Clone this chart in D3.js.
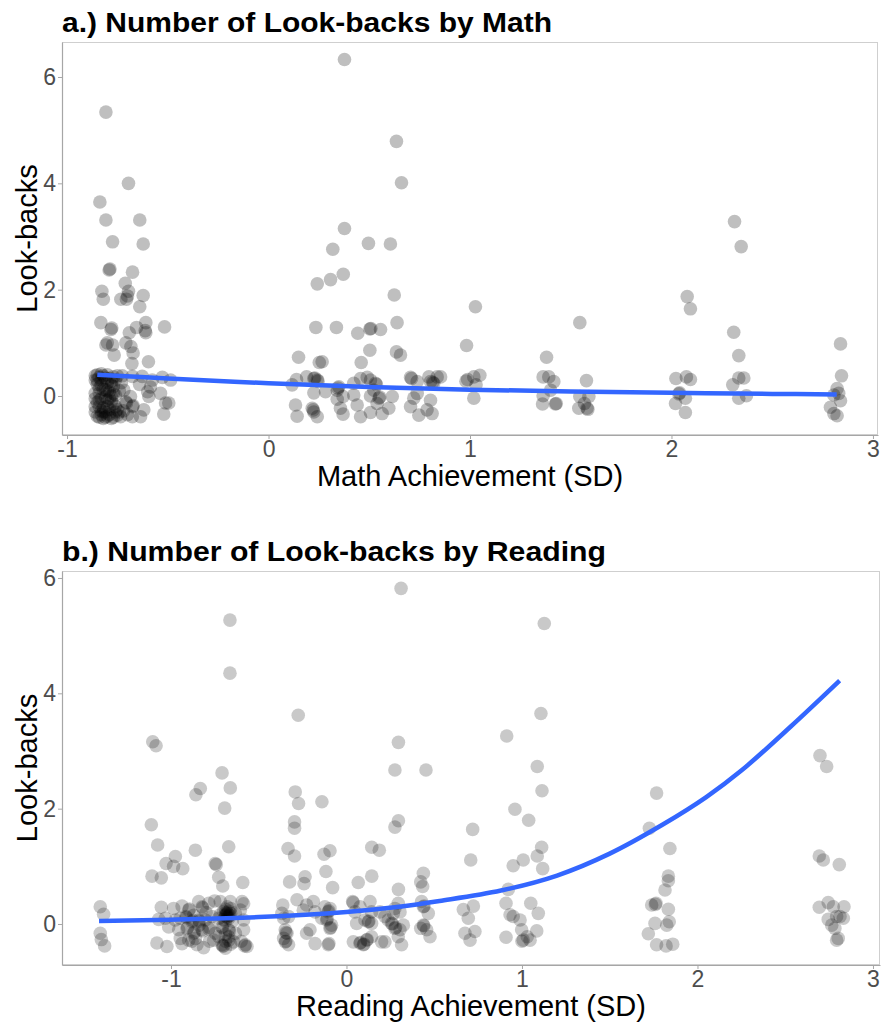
<!DOCTYPE html>
<html>
<head>
<meta charset="utf-8">
<script src="https://cdn.jsdelivr.net/npm/d3@7"></script>
<style>
  body { margin: 0; background: #fff; }
  text { font-family: "Liberation Sans", Arial, sans-serif; }
</style>
</head>
<body>
<script>
// ---- data ----
// [achievement (SD), look-backs (jittered)]
var mathPoints = [
  // left cluster, upper
  [-0.807,5.34],[-0.695,4.00],[-0.837,3.65],[-0.807,3.31],[-0.639,3.31],[-0.774,2.90],[-0.622,2.86],
  [-0.791,2.37],[-0.787,2.39],[-0.675,2.33],[-0.711,2.12],[-0.827,1.97],[-0.820,1.82],[-0.695,1.97],
  [-0.733,1.82],[-0.705,1.82],[-0.700,1.88],[-0.622,1.89],[-0.639,1.68],[-0.832,1.38],[-0.782,1.25],
  [-0.778,1.28],[-0.609,1.38],[-0.655,1.29],[-0.609,1.19],[-0.612,1.23],[-0.516,1.30],[-0.691,1.19],
  [-0.807,0.96],[-0.800,1.00],[-0.774,0.96],[-0.708,1.00],[-0.683,0.93],[-0.766,0.77],[-0.672,0.81],
  [-0.596,0.645],[-0.678,0.61],
  // left cluster, dense bottom
  [-0.86,0.38],[-0.85,0.22],[-0.86,0.05],[-0.85,-0.12],[-0.86,-0.30],[-0.84,-0.40],
  [-0.83,0.42],[-0.83,0.30],[-0.82,0.12],[-0.83,-0.05],[-0.82,-0.22],[-0.83,-0.35],
  [-0.80,0.40],[-0.80,0.25],[-0.79,0.08],[-0.80,-0.08],[-0.79,-0.25],[-0.80,-0.38],
  [-0.77,0.36],[-0.77,0.18],[-0.76,0.02],[-0.77,-0.15],[-0.76,-0.30],[-0.78,-0.42],
  [-0.81,0.34],[-0.78,0.28],[-0.84,0.15],[-0.81,-0.02],[-0.78,-0.10],[-0.84,-0.20],
  [-0.81,-0.30],[-0.78,0.00],[-0.82,-0.42],[-0.76,0.30],[-0.85,0.30],
  [-0.86,0.30],[-0.86,-0.20],[-0.85,0.40],[-0.85,-0.38],[-0.84,0.05],[-0.84,-0.08],[-0.83,0.20],
  [-0.82,0.38],[-0.82,-0.30],[-0.81,0.12],[-0.81,-0.40],[-0.80,0.10],[-0.80,-0.20],[-0.79,0.33],
  [-0.79,-0.35],[-0.78,0.20],[-0.77,-0.40],[-0.77,0.05],[-0.76,-0.20],[-0.75,0.38],[-0.75,-0.36],
  [-0.74,0.10],[-0.74,-0.30],[-0.73,0.25],[-0.72,-0.28],[-0.70,-0.35],[-0.84,0.35],[-0.83,-0.28],
  [-0.79,-0.05],[-0.86,-0.05],
  [-0.726,0.38],[-0.676,0.37],[-0.627,0.37],[-0.577,0.30],[-0.527,0.35],[-0.486,0.30],
  [-0.708,-0.11],[-0.705,-0.13],[-0.675,-0.20],[-0.672,-0.18],[-0.619,-0.26],[-0.594,-0.01],
  [-0.586,0.17],[-0.536,0.05],[-0.511,-0.13],[-0.495,-0.13],[-0.520,-0.34],[-0.635,-0.39],
  [-0.676,-0.39],[-0.734,-0.39],[-0.751,-0.26],[-0.64,0.22],[-0.60,0.08],[-0.718,0.11],[-0.685,-0.01],
  // middle cluster
  [0.377,6.33],[0.635,4.79],[0.660,4.01],[0.377,3.15],[0.319,2.76],[0.496,2.87],[0.605,2.86],
  [0.242,2.11],[0.308,2.19],[0.371,2.29],[0.624,1.90],[0.235,1.29],[0.337,1.29],[0.443,1.18],
  [0.503,1.26],[0.508,1.27],[0.556,1.25],[0.638,1.38],[0.149,0.73],[0.252,0.63],[0.266,0.645],
  [0.503,0.86],[0.460,0.63],[0.635,0.83],[0.655,0.77],
  [0.117,0.21],[0.139,0.31],[0.189,0.36],[0.225,0.33],[0.230,0.34],[0.242,0.30],[0.246,0.28],
  [0.349,0.175],[0.341,0.11],[0.345,0.15],[0.423,0.24],[0.457,0.33],[0.490,0.35],[0.506,0.30],
  [0.531,0.24],[0.535,0.22],[0.523,0.11],[0.705,0.35],[0.710,0.33],[0.738,0.27],[0.796,0.36],
  [0.837,0.36],[0.820,0.24],[0.815,0.26],[0.804,0.27],
  [0.225,0.06],[0.283,0.08],[0.341,-0.06],[0.370,-0.01],[0.423,0.02],[0.506,0.0],[0.548,-0.04],
  [0.552,-0.02],[0.614,-0.01],[0.721,-0.04],[0.804,-0.08],[0.738,0.05],
  [0.134,-0.17],[0.142,-0.38],[0.217,-0.23],[0.222,-0.26],[0.225,-0.30],[0.242,-0.39],[0.357,-0.23],
  [0.370,-0.34],[0.440,-0.17],[0.457,-0.39],[0.506,-0.31],[0.539,-0.14],[0.564,-0.33],[0.597,-0.23],
  [0.705,-0.20],[0.746,-0.36],[0.787,-0.26],[0.812,-0.33],
  // right clusters
  [0.854,0.36],[1.027,1.68],[0.983,0.95],[0.980,0.28],[0.988,0.31],[1.019,0.36],[1.049,0.39],
  [1.030,0.21],[1.019,-0.04],
  [1.380,0.73],[1.363,0.36],[1.391,0.36],[1.416,0.27],[1.400,0.11],[1.363,0.006],[1.360,-0.15],
  [1.424,-0.15],[1.428,-0.14],
  [1.545,1.38],[1.578,0.29],[1.545,-0.01],[1.590,-0.01],[1.540,-0.23],[1.581,-0.23],[1.585,-0.25],
  [1.568,-0.14],
  [2.078,1.87],[2.094,1.64],[2.022,0.33],[2.074,0.36],[2.094,0.31],[2.037,0.04],[2.040,0.06],
  [2.069,-0.04],[2.020,-0.14],[2.069,-0.31],
  [2.313,3.28],[2.346,2.81],[2.309,1.20],[2.334,0.76],[2.334,0.34],[2.359,0.34],[2.304,0.21],
  [2.334,-0.04],[2.372,0.006],
  [2.839,0.98],[2.844,0.38],[2.822,0.14],[2.830,0.05],[2.806,0.02],[2.839,-0.09],[2.789,-0.21],
  [2.806,-0.33],[2.822,-0.37]
];

var mathSmooth = [
  [-0.85,0.40],[-0.5,0.33],[0,0.24],[0.5,0.17],[1,0.12],[1.5,0.085],[2,0.06],[2.5,0.04],[2.82,0.03]
];

var readPoints = [
  // far left
  [-1.104,3.16],[-1.085,3.09],[-0.709,2.62],[-0.833,2.35],[-0.858,2.24],[-0.662,2.36],[-0.694,2.01],
  [-1.112,1.72],[-1.076,1.37],[-0.861,1.28],[-0.671,1.34],[-0.975,1.17],[-1.028,1.05],[-0.985,1.0],
  [-0.933,0.96],[-0.748,1.05],[-0.742,1.03],[-1.108,0.83],[-1.055,0.80],[-0.728,0.81],[-0.705,0.66],
  [-0.591,0.72],[-1.403,0.30],[-1.384,0.17],[-1.403,-0.16],[-1.397,-0.27],[-1.378,-0.38],
  [-1.080,-0.33],[-1.023,-0.39],[-0.664,5.27],[-0.664,4.35],
  // dense left cluster
  [-1.055,0.29],[-0.985,0.27],[-0.937,0.31],[-0.899,0.24],[-0.895,0.26],[-0.842,0.39],[-0.823,0.30],
  [-0.820,0.28],[-0.785,0.36],[-0.751,0.40],[-0.719,0.39],[-0.662,0.39],[-0.595,0.39],[-0.586,0.35],
  [-1.070,0.08],[-1.032,0.10],[-1.013,-0.05],[-0.975,0.07],[-0.947,0.10],[-0.915,0.13],[-0.912,0.11],
  [-0.880,0.04],[-0.876,0.06],[-0.842,0.07],[-0.838,0.05],[-0.804,0.07],[-0.766,0.13],[-0.728,0.10],
  [-0.690,0.19],[-0.685,0.17],[-0.680,0.20],[-0.671,0.13],[-0.667,0.15],[-0.633,0.19],[-0.605,0.24],
  [-0.586,0.07],
  [-0.956,-0.10],[-0.909,-0.08],[-0.905,-0.06],[-0.871,-0.16],[-0.866,-0.14],[-0.823,-0.10],
  [-0.818,-0.12],[-0.785,-0.08],[-0.780,-0.06],[-0.747,-0.16],[-0.709,-0.05],[-0.705,-0.07],
  [-0.671,-0.10],[-0.667,-0.12],[-0.633,-0.16],[-0.586,-0.10],
  [-0.947,-0.25],[-0.899,-0.28],[-0.852,-0.36],[-0.814,-0.41],[-0.757,-0.28],[-0.709,-0.36],
  [-0.705,-0.38],[-0.690,-0.42],[-0.643,-0.31],[-0.576,-0.36],[-0.567,-0.39],[-0.937,-0.34],
  [-0.861,-0.25],[-0.728,-0.22],[-0.671,-0.28],[-0.690,-0.30],
  [-0.70,0.22],[-0.69,0.26],[-0.68,0.12],[-0.67,0.22],[-0.66,0.18],[-0.70,0.08],[-0.68,0.30],
  [-0.65,0.05],[-0.72,0.16],[-0.69,-0.18],[-0.67,-0.22],[-0.70,-0.38],[-0.66,-0.35],[-0.87,0.15],
  [-0.84,-0.02],[-0.80,0.20],[-0.78,-0.30],[-0.88,-0.30],[-0.60,-0.30],[-0.58,-0.38],
  [-0.69,0.14],[-0.68,0.18],[-0.67,0.10],[-0.69,0.05],[-0.66,0.27],
  // -0.3 group
  [-0.275,3.62],[-0.292,2.29],[-0.273,2.09],[-0.296,1.77],[-0.296,1.66],[-0.333,1.31],[-0.296,1.18],
  [-0.324,0.73],[-0.282,0.42],[-0.363,0.33],[-0.368,0.185],[-0.358,0.10],[-0.330,0.127],
  [-0.349,-0.10],[-0.339,-0.16],[-0.345,-0.15],[-0.358,-0.25],[-0.349,-0.31],[-0.345,-0.30],
  [-0.330,-0.36],
  // middle
  [0.311,5.82],[1.127,5.21],[0.296,3.15],[0.276,2.67],[0.453,2.67],[0.913,3.26],[1.108,3.65],
  [1.087,2.73],[1.114,2.31],[0.960,1.99],[1.038,1.80],[-0.140,2.12],[0.296,1.79],[0.276,1.68],
  [0.719,1.64],[0.708,1.11],[0.144,1.33],[0.187,1.28],[-0.128,1.21],[-0.094,1.27],[-0.117,0.91],
  [-0.236,0.82],[-0.242,0.70],[-0.079,0.63],[0.067,0.72],[0.144,0.83],[0.438,0.88],[0.423,0.73],
  [0.434,0.65],[0.296,0.60],[0.950,1.01],[1.007,1.11],[1.087,1.18],[1.118,0.96],[1.112,1.33],
  [0.922,0.60],
  [-0.246,0.24],[-0.227,0.33],[-0.189,0.39],[-0.179,0.21],[-0.123,0.30],[-0.104,0.21],[-0.100,0.23],
  [-0.094,0.27],[-0.141,0.10],[-0.113,0.07],[-0.110,0.09],[-0.085,-0.02],[-0.094,-0.075],
  [-0.090,-0.06],[-0.208,-0.10],[-0.227,-0.16],[-0.179,-0.34],[-0.104,-0.36],[-0.100,-0.34],
  [0.035,0.39],[0.038,0.37],[0.048,0.21],[0.077,0.30],[0.134,0.39],[0.143,0.21],[0.105,0.07],
  [0.124,0.04],[0.128,0.05],[0.143,0.01],[0.058,0.01],[0.191,0.21],[0.219,0.13],[0.238,0.07],
  [0.267,0.185],[0.276,0.27],[0.295,0.36],[0.305,0.21],[0.257,0.01],[0.262,0.0],[0.276,-0.075],
  [0.280,-0.06],[0.324,-0.02],[0.305,-0.10],[0.039,-0.31],[0.077,-0.335],[0.080,-0.32],
  [0.096,-0.36],[0.100,-0.35],[0.115,-0.28],[0.118,-0.27],[0.143,-0.22],[0.200,-0.31],[0.219,-0.31],
  [0.314,-0.36],[0.295,-0.22],
  [0.428,0.39],[0.438,0.30],[0.442,0.31],[0.466,0.185],[0.423,-0.075],[0.457,-0.10],[0.476,-0.22],
  [0.438,-0.02],[0.441,-0.03],
  [0.666,0.25],[0.723,0.31],[0.694,0.10],[0.675,-0.16],[0.732,-0.13],[0.704,-0.28],
  [0.909,0.36],[0.932,0.16],[0.950,0.13],[0.989,0.07],[1.050,0.36],[1.093,0.185],[1.084,-0.12],
  [0.909,-0.23],[0.998,-0.10],[1.007,-0.28],[1.046,-0.28],[1.030,-0.22],[1.000,-0.30],
  // 1.8 group
  [1.767,2.27],[1.726,1.66],[1.843,1.31],[1.834,0.83],[1.834,0.75],[1.815,0.59],
  [1.739,0.33],[1.764,0.36],[1.760,0.34],[1.834,0.255],[1.839,0.04],[1.825,-0.02],[1.758,0.01],
  [1.720,-0.17],[1.767,-0.36],[1.821,-0.38],[1.859,-0.35],
  // 2.7 group
  [2.698,2.92],[2.736,2.73],[2.694,1.18],[2.717,1.11],[2.808,1.03],
  [2.694,0.29],[2.745,0.37],[2.774,0.30],[2.835,0.30],[2.745,0.08],[2.793,0.13],[2.831,0.10],
  [2.765,-0.02],[2.812,0.13],[2.783,-0.075],[2.802,-0.25],[2.793,-0.28]
];

var readSmooth = [
  [-1.41,0.05],[-1.0,0.075],[-0.5,0.12],[0.0,0.21],[0.3,0.30],[0.53,0.40],[0.88,0.58],
  [1.2,0.84],[1.5,1.22],[1.8,1.72],[2.05,2.20],[2.25,2.66],[2.53,3.42],[2.81,4.22]
];

var xTicks = [-1, 0, 1, 2, 3];
var yTicks = [0, 2, 4, 6];

// ---- layout ----
var svg = d3.select("body").append("svg")
    .attr("width", 881)
    .attr("height", 1025);

var panels = [
  { title: "a.) Number of Look-backs by Math", titleW: 490, xLabel: "Math Achievement (SD)",
    points: mathPoints, smooth: mathSmooth, opacity: 0.25,
    box: { left: 62, top: 42, right: 878, bottom: 435 },
    xDomain: [-1.025, 3.025], yDomain: [-0.733, 6.658] },
  { title: "b.) Number of Look-backs by Reading", titleW: 544, xLabel: "Reading Achievement (SD)",
    points: readPoints, smooth: readSmooth, opacity: 0.21,
    box: { left: 62, top: 571, right: 880, bottom: 965 },
    xDomain: [-1.621, 3.040], yDomain: [-0.711, 6.121] }
];

panels.forEach(function (p) {
  var b = p.box;
  var x = d3.scaleLinear().domain(p.xDomain).range([b.left, b.right]);
  var y = d3.scaleLinear().domain(p.yDomain).range([b.bottom, b.top]);

  // panel border
  svg.append("rect")
    .attr("x", b.left + 0.5).attr("y", b.top + 0.5)
    .attr("width", b.right - b.left - 1).attr("height", b.bottom - b.top - 1)
    .attr("fill", "none").attr("stroke", "#cfcfcf");

  // points
  svg.append("g").selectAll("circle")
    .data(p.points)
    .enter().append("circle")
    .attr("cx", function (d) { return x(d[0]); })
    .attr("cy", function (d) { return y(d[1]); })
    .attr("r", 6.8)
    .attr("fill", "#000")
    .attr("fill-opacity", p.opacity);

  // smooth line
  var line = d3.line()
    .x(function (d) { return x(d[0]); })
    .y(function (d) { return y(d[1]); })
    .curve(d3.curveCatmullRom.alpha(0.5));
  svg.append("path")
    .datum(p.smooth)
    .attr("d", line)
    .attr("fill", "none")
    .attr("stroke", "#3366FF")
    .attr("stroke-width", 4.5)
    .attr("stroke-linecap", "butt");

  // axes
  var xAxis = svg.append("g")
    .attr("transform", "translate(0," + b.bottom + ")")
    .call(d3.axisBottom(x).tickValues(xTicks).tickFormat(String)
      .tickSize(4).tickSizeOuter(0).tickPadding(2));
  var yAxis = svg.append("g")
    .attr("transform", "translate(" + b.left + ",0)")
    .call(d3.axisLeft(y).tickValues(yTicks).tickFormat(String)
      .tickSize(4).tickSizeOuter(0).tickPadding(2));

  [xAxis, yAxis].forEach(function (ax) {
    ax.select(".domain").attr("stroke", "#a6a6a6").attr("stroke-width", 1.2);
    ax.selectAll(".tick line").attr("stroke", "#a6a6a6");
    ax.selectAll(".tick text")
      .attr("fill", "#4d4d4d")
      .style("font-size", "23px")
      .style("font-family", '"Liberation Sans", Arial, sans-serif');
  });

  // title
  svg.append("text")
    .attr("x", b.left)
    .attr("y", b.top - 10)
    .attr("textLength", p.titleW)
    .attr("lengthAdjust", "spacingAndGlyphs")
    .style("font-size", "28px")
    .style("font-weight", "bold")
    .attr("fill", "#000")
    .text(p.title);

  // x label
  svg.append("text")
    .attr("x", (b.left + b.right) / 2)
    .attr("y", b.bottom + 51)
    .attr("text-anchor", "middle")
    .style("font-size", "29px")
    .attr("fill", "#000")
    .text(p.xLabel);

  // y label
  svg.append("text")
    .attr("transform", "translate(37," + ((b.top + b.bottom) / 2) + ") rotate(-90)")
    .attr("text-anchor", "middle")
    .style("font-size", "29px")
    .attr("fill", "#000")
    .text("Look-backs");
});
</script>
</body>
</html>
